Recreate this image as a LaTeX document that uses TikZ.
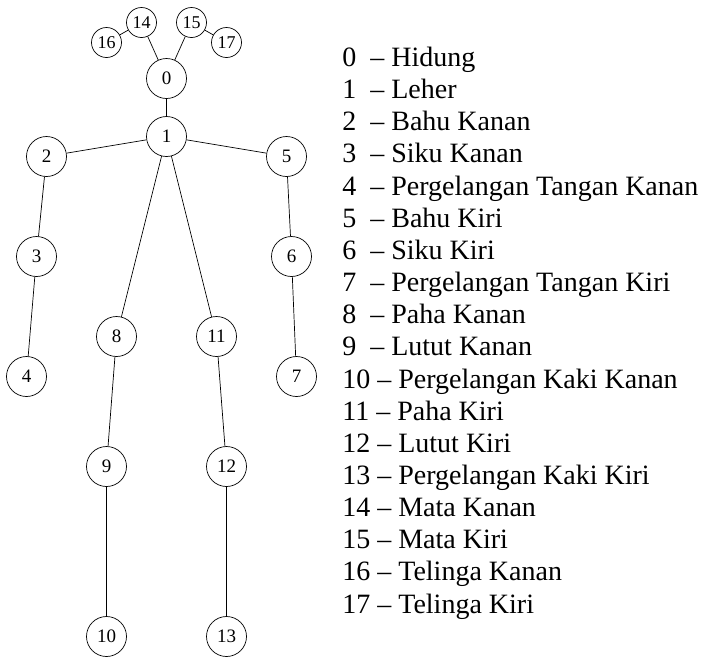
\documentclass[tikz,border=0pt]{standalone}
\usepackage{fontspec}
\setmainfont{Liberation Serif}
\usepackage{tikz}
\usetikzlibrary{calc}

\begin{document}
\begin{tikzpicture}[x=1pt, y=-1pt, line width=0.7pt,
                joint/.style={circle, draw, minimum size=40pt, inner sep=0pt, font=\fontsize{19}{19}\selectfont},
                face/.style={circle, draw, minimum size=30pt, inner sep=0pt, font=\fontsize{18}{18}\selectfont},
                legend/.style={anchor=base west, inner sep=0pt, font=\fontsize{28}{28}\selectfont}]

                \useasboundingbox (0, 0) rectangle (710, 662);

                \coordinate (A) at (0, 0);

                % head
                \node[joint] (nose) at ($ (A) + (166.5, 78.5) $) {0};
                \node[face] (reye) at ($ (A) + (141.5, 22.5) $) {14};
                \node[face] (leye) at ($ (A) + (191.5, 22.5) $) {15};
                \node[face] (rear) at ($ (A) + (106.5, 42.5) $) {16};
                \node[face] (lear) at ($ (A) + (226.5, 42.5) $) {17};

                % arms
                \node[joint] (neck) at ($ (A) + (166.5, 136.5) $) {1};
                \node[joint] (rsho) at ($ (A) + (46.5, 156.5) $) {2};
                \node[joint] (relb) at ($ (A) + (36.5, 256.5) $) {3};
                \node[joint] (rwri) at ($ (A) + (26.5, 376.5) $) {4};
                \node[joint] (lsho) at ($ (A) + (286.5, 156.5) $) {5};
                \node[joint] (lelb) at ($ (A) + (291.5, 256.5) $) {6};
                \node[joint] (lwri) at ($ (A) + (296.5, 376.5) $) {7};

                % legs
                \node[joint] (rhip) at ($ (A) + (116.5, 336.5) $) {8};
                \node[joint] (rkne) at ($ (A) + (106.5, 466.5) $) {9};
                \node[joint] (rank) at ($ (A) + (106.5, 636.5) $) {10};
                \node[joint] (lhip) at ($ (A) + (216.5, 336.5) $) {11};
                \node[joint] (lkne) at ($ (A) + (226.5, 466.5) $) {12};
                \node[joint] (lank) at ($ (A) + (226.5, 636.5) $) {13};

                % bones
                \draw (rear) -- (reye);
                \draw (lear) -- (leye);
                \draw (reye) -- (nose);
                \draw (leye) -- (nose);
                \draw (nose) -- (neck);
                \draw (neck) -- (rsho) -- (relb) -- (rwri);
                \draw (neck) -- (lsho) -- (lelb) -- (lwri);
                \draw (neck) -- (rhip) -- (rkne) -- (rank);
                \draw (neck) -- (lhip) -- (lkne) -- (lank);

                % legend
                \node[legend] (t0) at ($ (A) + (342, 66.5) $) {0\ \ – Hidung};
                \node[legend] (t1) at ($ (t0.base west) + (0, 32.15) $) {1\ \ – Leher};
                \node[legend] (t2) at ($ (t1.base west) + (0, 32.15) $) {2\ \ – Bahu Kanan};
                \node[legend] (t3) at ($ (t2.base west) + (0, 32.15) $) {3\ \ – Siku Kanan};
                \node[legend] (t4) at ($ (t3.base west) + (0, 32.15) $) {4\ \ – Pergelangan Tangan Kanan};
                \node[legend] (t5) at ($ (t4.base west) + (0, 32.15) $) {5\ \ – Bahu Kiri};
                \node[legend] (t6) at ($ (t5.base west) + (0, 32.15) $) {6\ \ – Siku Kiri};
                \node[legend] (t7) at ($ (t6.base west) + (0, 32.15) $) {7\ \ – Pergelangan Tangan Kiri};
                \node[legend] (t8) at ($ (t7.base west) + (0, 32.15) $) {8\ \ – Paha Kanan};
                \node[legend] (t9) at ($ (t8.base west) + (0, 32.15) $) {9\ \ – Lutut Kanan};
                \node[legend] (t10) at ($ (t9.base west) + (0, 32.15) $) {10 – Pergelangan Kaki Kanan};
                \node[legend] (t11) at ($ (t10.base west) + (0, 32.15) $) {11 – Paha Kiri};
                \node[legend] (t12) at ($ (t11.base west) + (0, 32.15) $) {12 – Lutut Kiri};
                \node[legend] (t13) at ($ (t12.base west) + (0, 32.15) $) {13 – Pergelangan Kaki Kiri};
                \node[legend] (t14) at ($ (t13.base west) + (0, 32.15) $) {14 – Mata Kanan};
                \node[legend] (t15) at ($ (t14.base west) + (0, 32.15) $) {15 – Mata Kiri};
                \node[legend] (t16) at ($ (t15.base west) + (0, 32.15) $) {16 – Telinga Kanan};
                \node[legend] (t17) at ($ (t16.base west) + (0, 32.15) $) {17 – Telinga Kiri};

\end{tikzpicture}
\end{document}
